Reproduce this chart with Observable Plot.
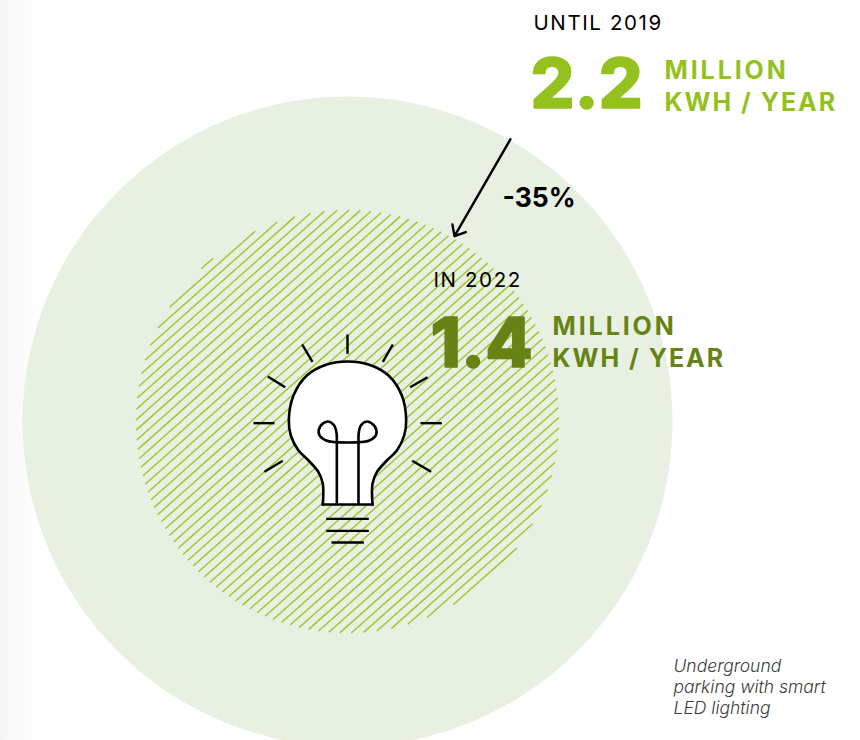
<!DOCTYPE html>
<html>
<head>
<meta charset="utf-8">
<script src="https://cdn.jsdelivr.net/npm/d3@7"></script>
<script src="https://cdn.jsdelivr.net/npm/@observablehq/plot@0.6"></script>
<style>
  html, body { margin: 0; padding: 0; overflow: hidden; background: linear-gradient(90deg, #f6f6f6 0, #ffffff 38px); }
  #chart svg { display: block; overflow: hidden; background: transparent; }
</style>
</head>
<body>
<div id="chart"></div>
<script>
// Electricity use of the underground parking, before and after smart LED lighting
const periods = ["UNTIL 2019", "IN 2022"];
const consumption = [2.2, 1.4];
const changeLabel = "-35%";
const unitLines = ["MILLION", "KWH / YEAR"];
const captionLines = ["Underground", "parking with smart", "LED lighting"];

const paleGreen = "#e8f0e2";
const hatchGreen = "#9dc52e";
const brightGreen = "#95c11f";
const darkGreen = "#678316";

// Lamp outline, filament and rays, in lamp units (three to a pixel)
const bulbShell = [[248,552],[248,490],[235,455],[205,420],[175,390],[152,345],[146,298],[160,225],[200,165],[260,132],[322,123],[385,132],[445,165],[485,225],[498,298],[492,345],[470,390],[440,420],[410,455],[397,490],[397,552]];
const bulbBase = [[248,552],[397,552]];
const filament = [[290,345],[282,315],[262,303],[240,318],[237,342],[258,360],[322,366],[388,360],[408,342],[404,318],[382,303],[362,315],[355,345]];
const filamentStems = [[290,345,290,552],[355,345,355,552]];
const rays = [[322,42,322,100],[186,72,217,124],[458,72,428,124],[83,168,135,200],[562,170,510,200],[40,308,103,308],[541,308,605,308],[73,454,128,421],[573,454,516,421]];
const screwLines = [[258,595,386,595],[258,631,386,631],[274,666,371,666]];

const lampX = (v) => (v - 322) / 3;
const lampY = (v) => (v - 303) / 3;
const lampPoint = { x: (d) => lampX(d[0]), y: (d) => lampY(d[1]) };
const lampSegment = {
  x1: (d) => lampX(d[0]), y1: (d) => lampY(d[1]),
  x2: (d) => lampX(d[2]), y2: (d) => lampY(d[3])
};

const circles = consumption.map((value, i) => ({ value, period: periods[i] }));
const innerRadius = 211.5;
const outerRadius = 325;

// The saving arrow runs along one radius, from the old circle's edge to the new one's
const arrowAngle = Math.PI / 6;
const savingArrow = [{
  x1: (outerRadius + 1) * Math.sin(arrowAngle), y1: -(outerRadius + 1) * Math.cos(arrowAngle),
  x2: (innerRadius + 2.5) * Math.sin(arrowAngle), y2: -(innerRadius + 2.5) * Math.cos(arrowAngle)
}];

// Hatching of the smaller circle: parallel chords, each cut off at the circle's edge
const hatchAngle = 41.6 * Math.PI / 180;
const hatchGap = 7.75;
const hatchPhase = -188.1;
const hatchChords = d3.range(-4, 53)
  .map((k) => hatchPhase + k * hatchGap)
  .filter((d) => Math.abs(d) < innerRadius)
  .map((d) => {
    const half = Math.sqrt(innerRadius * innerRadius - d * d);
    const nx = Math.sin(hatchAngle), ny = Math.cos(hatchAngle);
    const tx = Math.cos(hatchAngle), ty = -Math.sin(hatchAngle);
    return {
      x1: d * nx - half * tx, y1: d * ny - half * ty,
      x2: d * nx + half * tx, y2: d * ny + half * ty
    };
  });

// Text mark with optional tracking applied to its group
const label = (text, x, y, { tracking = 0, ...options }) =>
  Plot.text([text], {
    x: () => x,
    y: () => y,
    text: (d) => d,
    textAnchor: "start",
    lineAnchor: "middle",
    fontFamily: "Inter",
    render(index, scales, values, dimensions, context, next) {
      const g = next(index, scales, values, dimensions, context);
      g.style.letterSpacing = `${tracking}px`;
      return g;
    },
    ...options
  });

const periodStyle = { fontSize: 20.5, fontWeight: 400, fill: "black", tracking: 1.6 };
const bigStyle = { fontSize: 69, fontWeight: 800, strokeWidth: 1.5, strokeLinejoin: "round" };
const millionStyle = { fontSize: 25, fontWeight: 700, tracking: 2.9 };
const perYearStyle = { fontSize: 25, fontWeight: 700, tracking: 2.0 };

const chart = Plot.plot({
  width: 860,
  height: 740,
  margin: 0,
  x: { domain: [-347, 513], range: [0, 860], axis: null },
  y: { domain: [-421, 319], range: [0, 740], axis: null },
  r: { type: "linear", domain: [1.4, 2.2], range: [innerRadius, outerRadius] },
  marks: [
    Plot.dot(circles, { x: () => 0, y: () => 0, r: "value", fill: paleGreen }),
    Plot.link(hatchChords, { x1: "x1", y1: "y1", x2: "x2", y2: "y2", stroke: hatchGreen, strokeWidth: 1.4 }),

    // Lamp
    Plot.line(bulbShell, { ...lampPoint, curve: "catmull-rom", fill: "white", stroke: "black", strokeWidth: 2.6 }),
    Plot.line(bulbBase, { ...lampPoint, stroke: "black", strokeWidth: 2.6, strokeLinecap: "square" }),
    Plot.line(filament, { ...lampPoint, curve: "catmull-rom", stroke: "black", strokeWidth: 2.6 }),
    Plot.link(filamentStems, { ...lampSegment, stroke: "black", strokeWidth: 2.6 }),
    Plot.link(rays, { ...lampSegment, stroke: "black", strokeWidth: 2.4 }),
    Plot.link(screwLines, { ...lampSegment, stroke: "black", strokeWidth: 2.4 }),

    // Saving arrow
    Plot.arrow(savingArrow, { x1: "x1", y1: "y1", x2: "x2", y2: "y2", stroke: "black", strokeWidth: 2.4, headLength: 7.5, headAngle: 80, inset: 0 }),
    label(changeLabel, 155, -223, { fontSize: 26.5, fontWeight: 700, fill: "black" }),

    // Until 2019
    label(periods[0], 186, -398, periodStyle),
    label(consumption[0].toFixed(1), 183, -336, { ...bigStyle, fill: brightGreen, stroke: brightGreen }),
    label(unitLines[0], 317, -351, { ...millionStyle, fill: brightGreen }),
    label(unitLines[1], 317, -319, { ...perYearStyle, fill: brightGreen }),

    // In 2022
    label(periods[1], 86, -141, periodStyle),
    label(consumption[1].toFixed(1), 83, -77, { ...bigStyle, fill: darkGreen, stroke: darkGreen }),
    label(unitLines[0], 205, -95, { ...millionStyle, fill: darkGreen }),
    label(unitLines[1], 205, -63, { ...perYearStyle, fill: darkGreen }),

    // Note
    ...captionLines.map((line, i) => label(line, 326, 245 + i * 21, { fontSize: 17.5, fontWeight: 300, fontStyle: "italic", fill: "#3c3c3c" }))
  ]
});

document.getElementById("chart").append(chart);
</script>
</body>
</html>
